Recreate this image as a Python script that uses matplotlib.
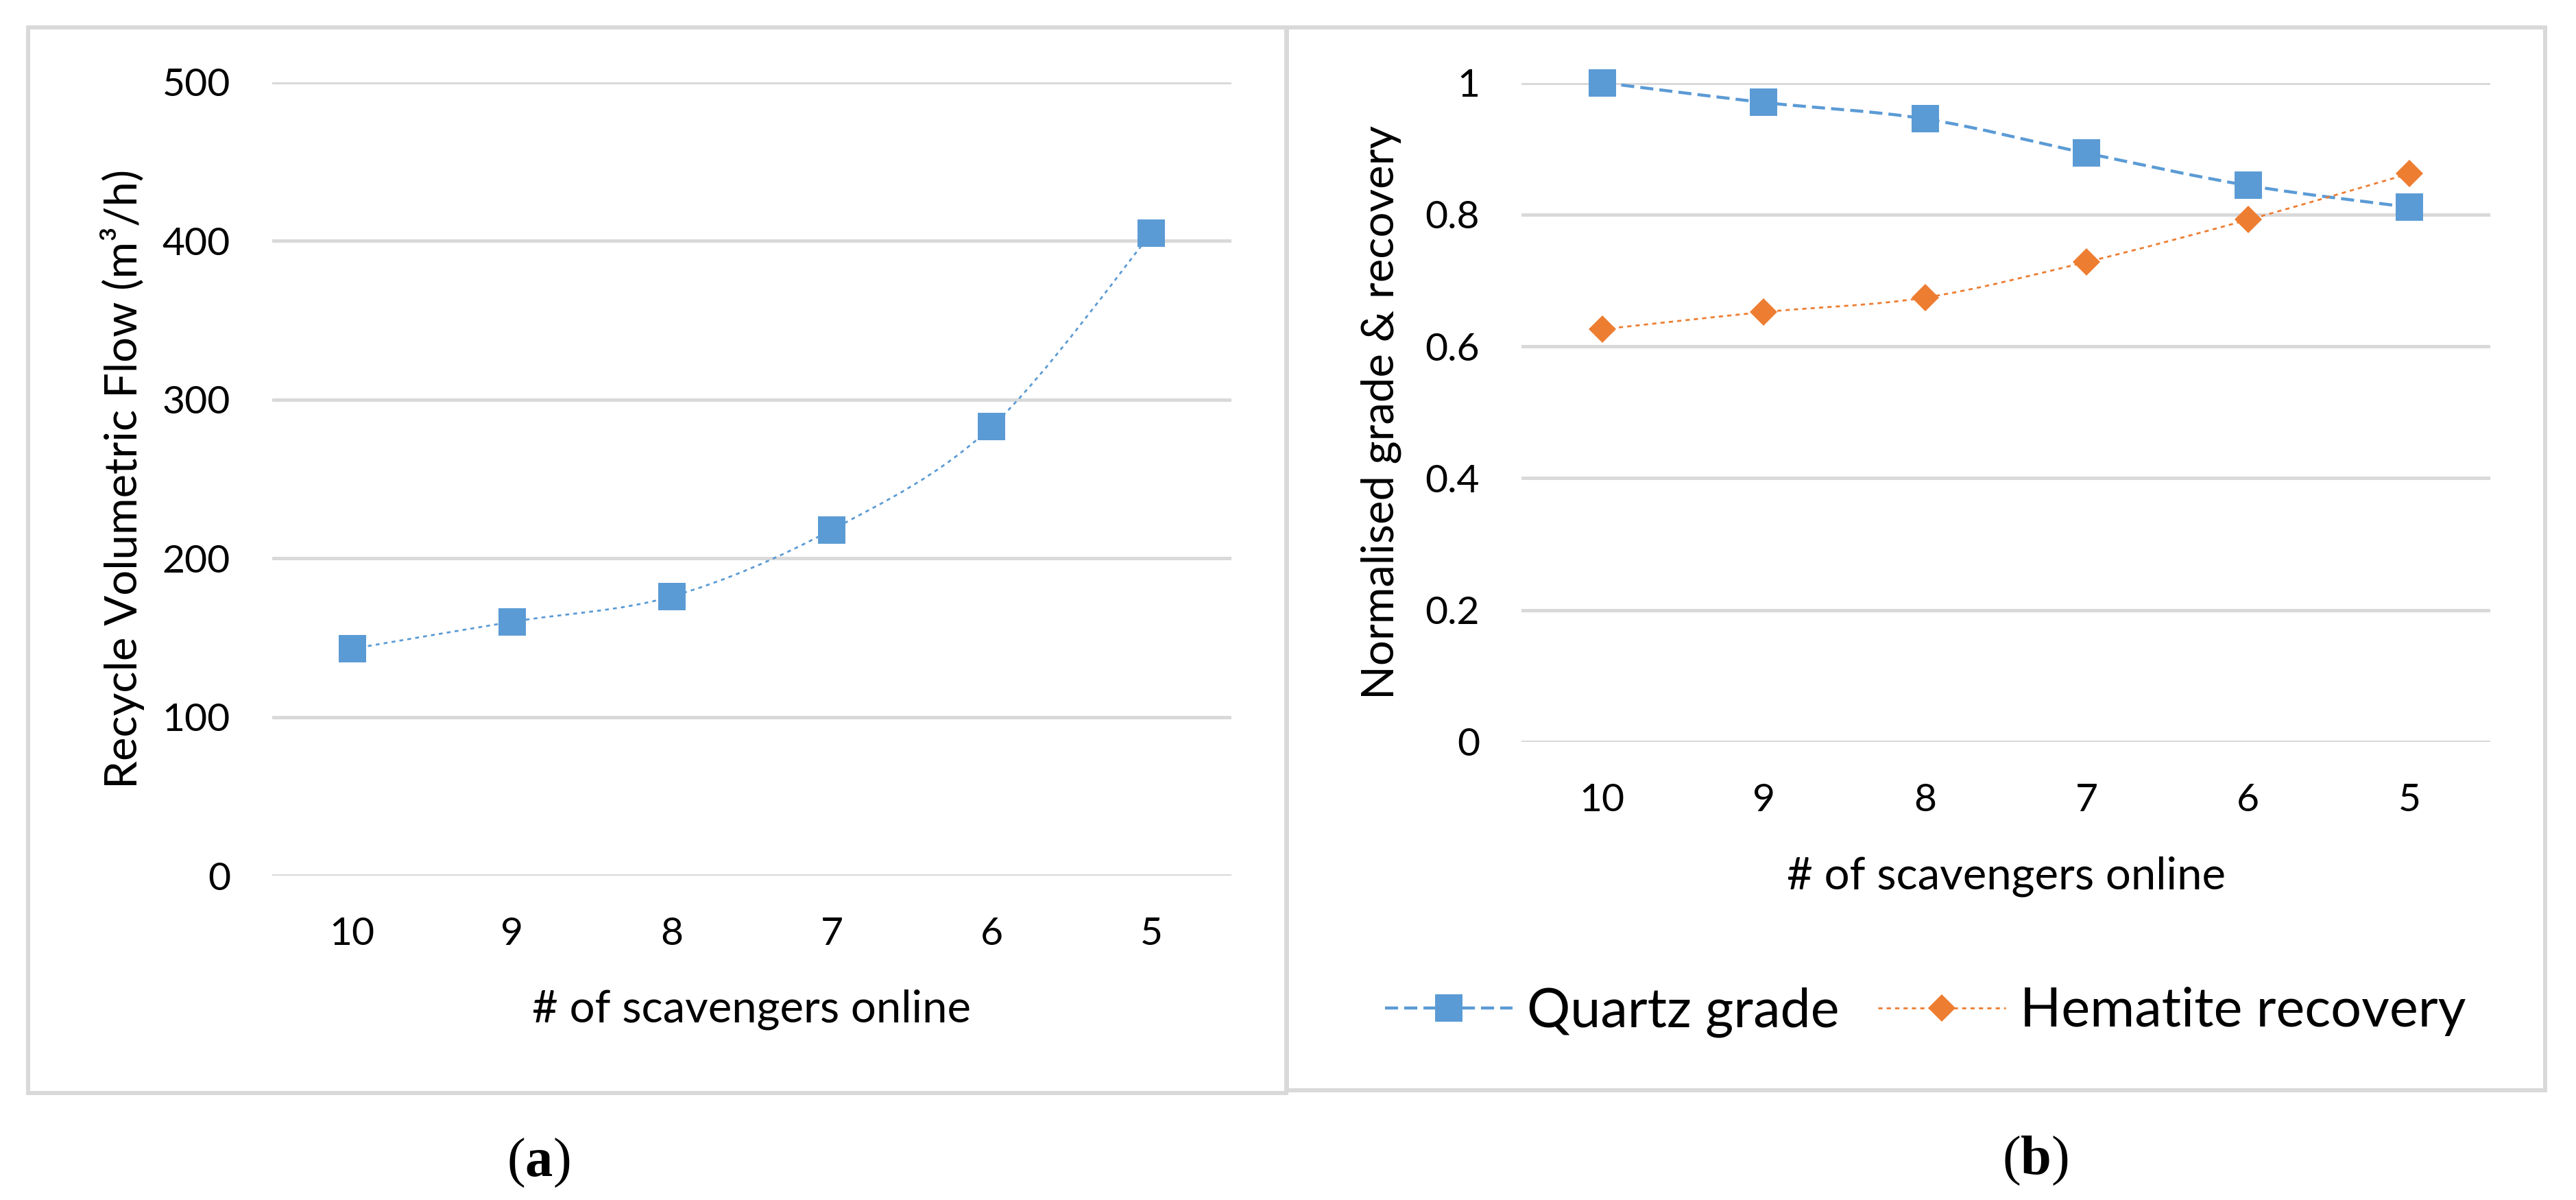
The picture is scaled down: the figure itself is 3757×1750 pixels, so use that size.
import numpy as np
import matplotlib
matplotlib.use("Agg")
import matplotlib.pyplot as plt
from matplotlib.path import Path
from matplotlib.patches import PathPatch, Rectangle
from matplotlib.lines import Line2D

plt.rcParams['font.family'] = ['Lato', 'DejaVu Sans']
plt.rcParams['mathtext.fontset'] = 'custom'
plt.rcParams['mathtext.rm'] = 'Liberation Serif'
plt.rcParams['mathtext.bf'] = 'Liberation Serif:bold'

# data
scavengers = ["10", "9", "8", "7", "6", "5"]
recycle_flow = [143, 160, 176, 218, 283, 405]
quartz_grade = [1.0, 0.970, 0.945, 0.893, 0.844, 0.811]
hematite_recovery = [0.626, 0.652, 0.674, 0.728, 0.792, 0.862]

flow_ticks = [0, 100, 200, 300, 400, 500]
norm_ticks = [0, 0.2, 0.4, 0.6, 0.8, 1.0]
norm_tick_labels = ["0", "0.2", "0.4", "0.6", "0.8", "1"]

blue = "#5B9BD5"
orange = "#ED7D31"
grid_grey = "#D9D9D9"

W, H = 3757, 1750
DPI = 100
tick_size = 41
title_size = 47
legend_size = 57


def smooth_path(xs, ys):
    # Excel-like smoothed line: cubic Bezier through the points
    pts = np.column_stack([xs, ys]).astype(float)
    ext = np.vstack([pts[0], pts, pts[-1]])
    verts = [pts[0]]
    codes = [Path.MOVETO]
    for i in range(len(pts) - 1):
        p0, p1, p2, p3 = ext[i], ext[i + 1], ext[i + 2], ext[i + 3]
        verts += [p1 + (p2 - p0) / 6, p2 - (p3 - p1) / 6, p2]
        codes += [Path.CURVE4] * 3
    return Path(verts, codes)


def style_axes(ax, ticks, labels=None):
    for s in ax.spines.values():
        s.set_visible(False)
    ax.set_axisbelow(True)
    ax.yaxis.grid(True, color=grid_grey, linewidth=3.6)
    ax.set_xlim(-0.5, len(scavengers) - 0.5)
    ax.set_xticks(np.arange(len(scavengers)))
    ax.set_xticklabels(scavengers)
    ax.set_yticks(ticks)
    if labels is not None:
        ax.set_yticklabels(labels)
    ax.tick_params(axis="both", length=0, labelsize=tick_size, colors="#000000")
    ax.tick_params(axis="y", pad=44)
    ax.tick_params(axis="x", pad=43)


def draw_series(ax, values, color, lw, dashes, marker, ms):
    x = np.arange(len(values))
    ax.add_patch(PathPatch(smooth_path(x, values), fill=False, edgecolor=color,
                           linewidth=lw, linestyle=(0, dashes), zorder=3))
    ax.plot(x, values, linestyle="none", marker=marker, markersize=ms,
            markerfacecolor=color, markeredgewidth=0, clip_on=False, zorder=4)


fig = plt.figure(figsize=(W / DPI, H / DPI), dpi=DPI)

# panel frames
for x0, y0, x1, y1 in [(41, 40, 1876, 1594), (1877, 40, 3712, 1590)]:
    fig.add_artist(Rectangle((x0 / W, 1 - y1 / H), (x1 - x0) / W, (y1 - y0) / H,
                             transform=fig.transFigure, fill=False,
                             edgecolor=grid_grey, linewidth=4.3))

# (a) recycle flow
ax1 = fig.add_axes([397 / W, 1 - 1277 / H, 1399 / W, (1277 - 120) / H])
style_axes(ax1, flow_ticks)
ax1.set_ylim(0, 500)
draw_series(ax1, recycle_flow, blue, 2.0, (2, 2.2), "s", 29.5)
ax1.text(0.5, -(1472 - 1277) / 1157, "# of scavengers online", transform=ax1.transAxes,
         ha="center", va="center", fontsize=title_size)
fig.text(179 / W, 1 - 698 / H, "Recycle Volumetric Flow (m³/h)", rotation=90,
         ha="center", va="center", fontsize=title_size)

# (b) grade & recovery
ax2 = fig.add_axes([2219 / W, 1 - 1082 / H, 1413 / W, (1082 - 120.5) / H])
style_axes(ax2, norm_ticks, norm_tick_labels)
ax2.set_ylim(0, 1)
draw_series(ax2, quartz_grade, blue, 3.2, (4.3, 2.0), "s", 29.5)
draw_series(ax2, hematite_recovery, orange, 2.0, (2.2, 2.2), "D", 20.5)
ax2.text(0.5, -(1278 - 1082) / 961.5, "# of scavengers online", transform=ax2.transAxes,
         ha="center", va="center", fontsize=title_size)
fig.text(2014 / W, 1 - 601 / H, "Normalised grade & recovery", rotation=90,
         ha="center", va="center", fontsize=title_size)

handles = [
    Line2D([], [], color=blue, linewidth=3.2, linestyle=(0, (4.3, 2.0)), marker="s",
           markersize=29.5, markeredgewidth=0),
    Line2D([], [], color=orange, linewidth=2.0, linestyle=(0, (2.2, 2.2)), marker="D",
           markersize=20.5, markeredgewidth=0),
]
px = legend_size * DPI / 72
fig.legend(handles, ["Quartz grade", "Hematite recovery"], loc="center",
           bbox_to_anchor=(2808 / W, 1 - 1476 / H), ncol=2, frameon=False,
           fontsize=legend_size, handlelength=186 / px, handletextpad=21 / px,
           columnspacing=56 / px, borderpad=0, borderaxespad=0)

# captions
fig.text(785 / W, 1 - 1696 / H, r"($\mathbf{a}$)", ha="center", va="center",
         fontsize=58, family="Liberation Serif")
fig.text(2968 / W, 1 - 1693 / H, r"($\mathbf{b}$)", ha="center", va="center",
         fontsize=58, family="Liberation Serif")

fig.savefig("out.png", dpi=DPI)
plt.close("all")
